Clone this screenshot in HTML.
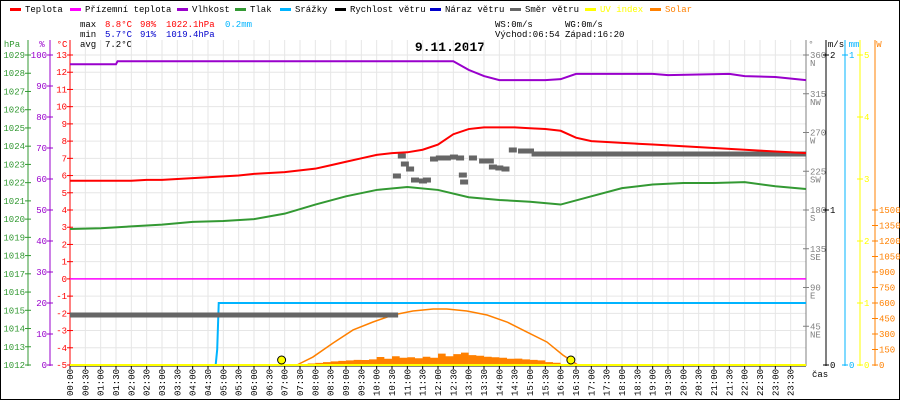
<!DOCTYPE html>
<html><head><meta charset="utf-8"><style>
html,body{margin:0;padding:0;background:#fff}
svg{display:block}
text{font-family:"Liberation Mono",monospace;font-size:9px}
</style></head><body>
<svg id="c" width="900" height="400" viewBox="0 0 900 400" xmlns="http://www.w3.org/2000/svg">
<rect x="0.5" y="0.5" width="899" height="399" fill="#fff" stroke="#000"/>
<g id="legend"></g>
<g>
<text x="80" y="27">max</text><text x="105" y="27" fill="#ff0000">8.8°C</text><text x="140" y="27" fill="#ff0000">98%</text><text x="166" y="27" fill="#ff0000">1022.1hPa</text><text x="225" y="27" fill="#00b4ff">0.2mm</text>
<text x="80" y="37">min</text><text x="105" y="37" fill="#0000cc">5.7°C</text><text x="140" y="37" fill="#0000cc">91%</text><text x="166" y="37" fill="#0000cc">1019.4hPa</text>
<text x="80" y="47">avg</text><text x="105" y="47">7.2°C</text>
<text x="495" y="27">WS:0m/s</text><text x="565" y="27">WG:0m/s</text>
<text x="495" y="37">Východ:06:54</text><text x="565" y="37">Západ:16:20</text>
</g>
<text x="450" y="51" text-anchor="middle" font-weight="bold" style="font-size:13px">9.11.2017</text>
<g id="grid"></g>
<g id="axes"></g>
<g id="series"></g>
</svg>
<script>
const tempHours=[0,0.5,1,1.5,2,2.5,3,3.5,4,4.5,5,5.5,6,6.5,7,7.5,8,8.5,9,9.5,10,10.5,11,11.5,12,12.5,13,13.5,14,14.5,15,15.5,16,16.5,17,17.5,18,18.5,19,19.5,20,20.5,21,21.5,22,22.5,23,23.5,24];
const tempValues=[5.7,5.7,5.7,5.7,5.7,5.75,5.75,5.8,5.85,5.9,5.95,6.0,6.1,6.15,6.2,6.3,6.4,6.6,6.8,7.0,7.2,7.3,7.35,7.5,7.8,8.4,8.7,8.8,8.8,8.8,8.75,8.7,8.6,8.2,8.0,7.95,7.9,7.85,7.8,7.75,7.7,7.65,7.6,7.55,7.5,7.45,7.4,7.35,7.3];
const humHours=[0,1.5,1.55,12.5,13,13.5,14,15.5,16,16.5,19,19.5,21.5,22,23,24];
const humValues=[97,97,98,98,95.2,93.2,91.9,91.9,92.2,93.9,93.9,93.5,93.9,93.2,92.9,91.9];
const presHours=[0,1,2,3,4,5,6,7,8,9,10,11,12,13,14,15,16,17,18,19,20,21,22,23,24];
const presValues=[1019.46,1019.5,1019.6,1019.7,1019.85,1019.9,1020.0,1020.3,1020.8,1021.25,1021.6,1021.76,1021.6,1021.2,1021.05,1020.95,1020.8,1021.25,1021.7,1021.9,1021.98,1021.98,1022.03,1021.8,1021.65];
const apparentHours=[0,24];
const apparentValues=[0,0];
const rainHours=[0,4.75,4.8,4.85,24];
const rainValues=[0,0,0.05,0.2,0.2];
const dirLineHours=[0,10.7,15.05,24];
const dirLineValues=[58,58,245,245];
const dirPointHours=[10.66,10.82,10.92,11.09,11.25,11.51,11.64,11.87,12.06,12.29,12.52,12.72,12.81,12.85,13.14,13.47,13.69,13.79,14.0,14.2,14.44,14.74,15.0];
const dirPointValues=[219.5,242.7,233.4,227.6,214.8,213.7,214.8,239.2,240.4,240.4,241.5,240.4,220.6,212.5,240.4,236.9,236.9,229.9,228.8,227.6,249.7,248.5,248.5];
const solarTheoryHours=[7.4,7.92,8.58,9.23,9.88,10.53,11.18,11.84,12.29,12.94,13.6,14.25,14.9,15.55,16.07,16.56];
const solarTheoryValues=[0,77,213,339,416,484,523,542,542,523,484,416,319,223,97,0];
const solarHours=[7.4,7.75,8,8.25,8.5,8.75,9,9.25,9.5,9.75,10,10.25,10.5,10.75,11,11.25,11.5,11.75,12,12.25,12.5,12.75,13,13.25,13.5,13.75,14,14.25,14.5,14.75,15,15.25,15.5,15.75,16,16.25];
const solarValues=[0,15,20,28,35,40,45,50,48,55,78,60,85,70,75,65,80,70,110,85,105,120,95,90,80,75,70,60,62,55,50,45,28,22,10,0];
const sunHours=[6.9,16.333];
const tempTicks=[-5,-4,-3,-2,-1,0,1,2,3,4,5,6,7,8,9,10,11,12,13];
const humTicks=[0,10,20,30,40,50,60,70,80,90,100];
const presTicks=[1012,1013,1014,1015,1016,1017,1018,1019,1020,1021,1022,1023,1024,1025,1026,1027,1028,1029];
const dirTicks=[45,90,135,180,225,270,315,360];
const dirNames=["NE","E","SE","S","SW","W","NW","N"];
const windTicks=[0,1,2];
const rainTicks=[0,1];
const uvTicks=[0,1,2,3,4,5];
const solarTicks=[0,150,300,450,600,750,900,1050,1200,1350,1500];

const NS="http://www.w3.org/2000/svg";
const X0=70,X1=806,Y0=55,Y1=365;
const xT=h=>X0+h*(X1-X0)/24;
const yTemp=v=>Y1-(v+5)*(Y1-Y0)/18;
const yHum=v=>Y1-v*(Y1-Y0)/100;
const yPres=v=>Y1-(v-1012)*(Y1-Y0)/17;
const yDir=v=>Y1-v*(Y1-Y0)/360;
const yWind=v=>Y1-v*(Y1-Y0)/2;
const yRain=v=>Y1-v*(Y1-Y0)/1;
const yUV=v=>Y1-v*(Y1-Y0)/5;
const ySol=v=>Y1-v*(Y1-Y0)/3000;
function mk(tag,attrs,parent){const e=document.createElementNS(NS,tag);for(const k in attrs)e.setAttribute(k,attrs[k]);parent.appendChild(e);return e;}
const G=document.getElementById('grid'),A=document.getElementById('axes'),S=document.getElementById('series'),L=document.getElementById('legend');

const legItems=[["Teplota","#ff0000",10],["Přízemní teplota","#ff00ff",70],["Vlhkost","#9900cc",177],["Tlak","#339933",235],["Srážky","#00b4ff",280],["Rychlost větru","#000000",335],["Náraz větru","#0000cc",430],["Směr větru","#666666",510],["UV index","#ffff00",585],["Solar","#ff8000",650]];
legItems.forEach(it=>{
  const sw=mk('rect',{x:it[2],y:8,width:11,height:3,fill:it[1]},L);
  
  
  const t=mk('text',{x:it[2]+15,y:12,fill:(it[1]=="#ffff00"||it[1]=="#ff8000")?it[1]:"#000"},L);
  t.textContent=it[0];
  
  
});

for(let i=0;i<=48;i++){const x=xT(i/2);const l=mk('line',{x1:x,x2:x,y1:Y0-15,y2:Y1,stroke:"#e6e6e6"},G);
  
  }
tempTicks.forEach(v=>{const y=yTemp(v);const l=mk('line',{x1:X0,x2:X1,y1:y,y2:y,stroke:"#e6e6e6"},G);
  
  });

function vaxis(x,col,ticks,yf,title,tx,anchorRight,label){
  const ax=mk('line',{x1:x,x2:x,y1:Y0-15,y2:Y1+1,stroke:col},A);
  
  
  const tt=mk('text',{x:tx,y:47,fill:col,'text-anchor':'middle'},A);tt.textContent=title;
  
  
  ticks.forEach(v=>{const y=yf(v);
    mk('line',{x1:x-3,x2:x+3,y1:y,y2:y,stroke:col},A);
    const t=mk('text',{x:anchorRight?x-3:x+4,y:y+3,fill:col,'text-anchor':anchorRight?'end':'start'},A);
    t.textContent=v;
    
    });
}
vaxis(28,"#339933",presTicks,yPres,"hPa",12,true,'pressure-axis');
vaxis(50,"#9900cc",humTicks,yHum,"%",42,true,'humidity-axis');
vaxis(70,"#ff0000",tempTicks,yTemp,"°C",62,true,'temperature-axis');
vaxis(806,"#808080",dirTicks,yDir,"°",811,false,'direction-axis');
dirTicks.forEach((v,i)=>{const t=mk('text',{x:810,y:yDir(v)+11,fill:"#808080"},A);t.textContent=dirNames[i];
  
  });
vaxis(826,"#000000",windTicks,yWind,"m/s",836,false,'wind-axis');
vaxis(845,"#00b4ff",rainTicks,yRain,"mm",854,false,'rain-axis');
vaxis(860,"#ffff00",uvTicks,yUV,"",864,false,'uv-axis');
vaxis(875,"#ff8000",solarTicks,ySol,"W",879,false,'solar-axis');

mk('line',{x1:X0,x2:X1,y1:Y1+1,y2:Y1+1,stroke:"#000"},A);
for(let i=0;i<48;i++){const x=xT(i/2);
  mk('line',{x1:x,x2:x,y1:Y1+1,y2:Y1+4,stroke:"#000"},A);
  const hh=String(Math.floor(i/2)).padStart(2,'0'),mm=i%2?"30":"00";
  const t=mk('text',{x:0,y:0,transform:`translate(${x+3},396) rotate(-90)`},A);t.textContent=hh+":"+mm;
  
  }
const cas=mk('text',{x:812,y:377},A);cas.textContent="čas";



function pts(hs,vs,yf,step){let s=[];for(let i=0;i<hs.length;i++){if(step&&i>0)s.push(xT(hs[i])+","+yf(vs[i-1]));s.push(xT(hs[i])+","+yf(vs[i]));}return s.join(" ");}
function line(hs,vs,yf,col,w,name,step){const p=mk('polyline',{points:pts(hs,vs,yf,step),fill:"none",stroke:col,'stroke-width':w},S);
  
  return p;}

const sp=mk('polygon',{points:xT(solarHours[0])+","+Y1+" "+pts(solarHours,solarValues,ySol,true)+" "+xT(solarHours[solarHours.length-1])+","+Y1,fill:"#ff8000"},S);


line(solarTheoryHours,solarTheoryValues,ySol,"#ff8000",1.5,'solar-theoretical-line');
line(apparentHours,apparentValues,yTemp,"#ff00ff",1.5,'apparent-temperature-line');
line(rainHours,rainValues,yRain,"#00b4ff",2,'rain-line');
line(dirLineHours.slice(0,2),dirLineValues.slice(0,2),yDir,"#666666",5,'wind-direction-line');
line(dirLineHours.slice(2),dirLineValues.slice(2),yDir,"#666666",5,'wind-direction-line');
dirPointHours.forEach((h,i)=>{const r=mk('rect',{x:xT(h)-4,y:yDir(dirPointValues[i])-2.5,width:8,height:5,fill:"#666666"},S);
  
  });
line(presHours,presValues,yPres,"#339933",2,'pressure-line');
line(tempHours,tempValues,yTemp,"#ff0000",2,'temperature-line');
line(humHours,humValues,yHum,"#9900cc",2,'humidity-line');
line([0,24],[0,0],yUV,"#ffff00",2,'uv-index-line');
sunHours.forEach(h=>{const c=mk('circle',{cx:xT(h),cy:360,r:4,fill:"#ffff00",stroke:"#000"},S);
  
  });
</script>
</body></html>
